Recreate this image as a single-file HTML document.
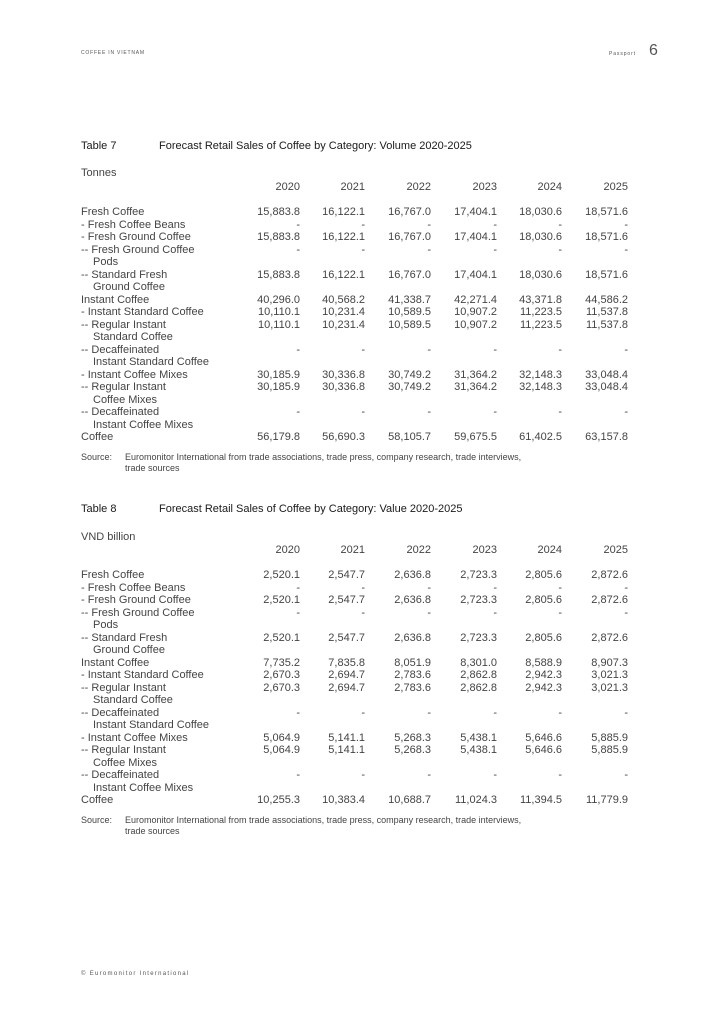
<!DOCTYPE html>
<html><head><meta charset="utf-8">
<style>
html,body{margin:0;padding:0;background:#fff;}
body{width:724px;height:1024px;position:relative;overflow:hidden;font-family:"Liberation Sans",Arial,sans-serif;color:#444;}
.r{position:absolute;left:0;width:724px;height:13px;font-size:11px;line-height:13px;white-space:nowrap;margin-top:0.5px;}
.r span{position:absolute;top:0;}
.l{left:81px;}
.k{left:93px;}
.c1{right:424px;}.c2{right:359px;}.c3{right:293px;}.c4{right:227px;}.c5{right:162px;}.c6{right:96px;}
.t{color:#1a1a1a;}
.src{position:absolute;font-size:9px;line-height:11px;color:#444;white-space:nowrap;}
.hdr{position:absolute;font-size:5px;line-height:6px;letter-spacing:0.8px;color:#555;white-space:nowrap;}
</style></head><body>
<div class="hdr" style="left:81px;top:50px;">COFFEE IN VIETNAM</div>
<div class="hdr" style="left:609px;top:51px;letter-spacing:0.9px;">Passport</div>
<div style="position:absolute;left:649px;top:42px;font-size:16px;line-height:18px;color:#555;">6</div>

<div class="r t" style="top:139.5px"><span class="l">Table 7</span><span style="left:159px">Forecast Retail Sales of Coffee by Category: Volume 2020-2025</span></div>
<div class="r" style="top:166.5px"><span class="l">Tonnes</span></div>
<div class="r" style="top:180.5px"><span class="c1">2020</span><span class="c2">2021</span><span class="c3">2022</span><span class="c4">2023</span><span class="c5">2024</span><span class="c6">2025</span></div>

<div class="r" style="top:205.5px"><span class="l">Fresh Coffee</span><span class="c1">15,883.8</span><span class="c2">16,122.1</span><span class="c3">16,767.0</span><span class="c4">17,404.1</span><span class="c5">18,030.6</span><span class="c6">18,571.6</span></div>
<div class="r" style="top:218px"><span class="l">- Fresh Coffee Beans</span><span class="c1">-</span><span class="c2">-</span><span class="c3">-</span><span class="c4">-</span><span class="c5">-</span><span class="c6">-</span></div>
<div class="r" style="top:230.5px"><span class="l">- Fresh Ground Coffee</span><span class="c1">15,883.8</span><span class="c2">16,122.1</span><span class="c3">16,767.0</span><span class="c4">17,404.1</span><span class="c5">18,030.6</span><span class="c6">18,571.6</span></div>
<div class="r" style="top:243px"><span class="l">-- Fresh Ground Coffee</span><span class="c1">-</span><span class="c2">-</span><span class="c3">-</span><span class="c4">-</span><span class="c5">-</span><span class="c6">-</span></div>
<div class="r" style="top:255.5px"><span class="k">Pods</span></div>
<div class="r" style="top:268px"><span class="l">-- Standard Fresh</span><span class="c1">15,883.8</span><span class="c2">16,122.1</span><span class="c3">16,767.0</span><span class="c4">17,404.1</span><span class="c5">18,030.6</span><span class="c6">18,571.6</span></div>
<div class="r" style="top:280.5px"><span class="k">Ground Coffee</span></div>
<div class="r" style="top:293px"><span class="l">Instant Coffee</span><span class="c1">40,296.0</span><span class="c2">40,568.2</span><span class="c3">41,338.7</span><span class="c4">42,271.4</span><span class="c5">43,371.8</span><span class="c6">44,586.2</span></div>
<div class="r" style="top:305.5px"><span class="l">- Instant Standard Coffee</span><span class="c1">10,110.1</span><span class="c2">10,231.4</span><span class="c3">10,589.5</span><span class="c4">10,907.2</span><span class="c5">11,223.5</span><span class="c6">11,537.8</span></div>
<div class="r" style="top:318px"><span class="l">-- Regular Instant</span><span class="c1">10,110.1</span><span class="c2">10,231.4</span><span class="c3">10,589.5</span><span class="c4">10,907.2</span><span class="c5">11,223.5</span><span class="c6">11,537.8</span></div>
<div class="r" style="top:330.5px"><span class="k">Standard Coffee</span></div>
<div class="r" style="top:343px"><span class="l">-- Decaffeinated</span><span class="c1">-</span><span class="c2">-</span><span class="c3">-</span><span class="c4">-</span><span class="c5">-</span><span class="c6">-</span></div>
<div class="r" style="top:355.5px"><span class="k">Instant Standard Coffee</span></div>
<div class="r" style="top:368px"><span class="l">- Instant Coffee Mixes</span><span class="c1">30,185.9</span><span class="c2">30,336.8</span><span class="c3">30,749.2</span><span class="c4">31,364.2</span><span class="c5">32,148.3</span><span class="c6">33,048.4</span></div>
<div class="r" style="top:380.5px"><span class="l">-- Regular Instant</span><span class="c1">30,185.9</span><span class="c2">30,336.8</span><span class="c3">30,749.2</span><span class="c4">31,364.2</span><span class="c5">32,148.3</span><span class="c6">33,048.4</span></div>
<div class="r" style="top:393px"><span class="k">Coffee Mixes</span></div>
<div class="r" style="top:405.5px"><span class="l">-- Decaffeinated</span><span class="c1">-</span><span class="c2">-</span><span class="c3">-</span><span class="c4">-</span><span class="c5">-</span><span class="c6">-</span></div>
<div class="r" style="top:418px"><span class="k">Instant Coffee Mixes</span></div>
<div class="r" style="top:430.5px"><span class="l">Coffee</span><span class="c1">56,179.8</span><span class="c2">56,690.3</span><span class="c3">58,105.7</span><span class="c4">59,675.5</span><span class="c5">61,402.5</span><span class="c6">63,157.8</span></div>

<div class="src" style="left:81px;top:452px;">Source:</div>
<div class="src" style="left:125px;top:452px;">Euromonitor International from trade associations, trade press, company research, trade interviews,</div>
<div class="src" style="left:125px;top:463px;">trade sources</div>

<div class="r t" style="top:502.5px"><span class="l">Table 8</span><span style="left:159px">Forecast Retail Sales of Coffee by Category: Value 2020-2025</span></div>
<div class="r" style="top:530.5px"><span class="l">VND billion</span></div>
<div class="r" style="top:543.5px"><span class="c1">2020</span><span class="c2">2021</span><span class="c3">2022</span><span class="c4">2023</span><span class="c5">2024</span><span class="c6">2025</span></div>

<div class="r" style="top:568.5px"><span class="l">Fresh Coffee</span><span class="c1">2,520.1</span><span class="c2">2,547.7</span><span class="c3">2,636.8</span><span class="c4">2,723.3</span><span class="c5">2,805.6</span><span class="c6">2,872.6</span></div>
<div class="r" style="top:581px"><span class="l">- Fresh Coffee Beans</span><span class="c1">-</span><span class="c2">-</span><span class="c3">-</span><span class="c4">-</span><span class="c5">-</span><span class="c6">-</span></div>
<div class="r" style="top:593.5px"><span class="l">- Fresh Ground Coffee</span><span class="c1">2,520.1</span><span class="c2">2,547.7</span><span class="c3">2,636.8</span><span class="c4">2,723.3</span><span class="c5">2,805.6</span><span class="c6">2,872.6</span></div>
<div class="r" style="top:606px"><span class="l">-- Fresh Ground Coffee</span><span class="c1">-</span><span class="c2">-</span><span class="c3">-</span><span class="c4">-</span><span class="c5">-</span><span class="c6">-</span></div>
<div class="r" style="top:618.5px"><span class="k">Pods</span></div>
<div class="r" style="top:631px"><span class="l">-- Standard Fresh</span><span class="c1">2,520.1</span><span class="c2">2,547.7</span><span class="c3">2,636.8</span><span class="c4">2,723.3</span><span class="c5">2,805.6</span><span class="c6">2,872.6</span></div>
<div class="r" style="top:643.5px"><span class="k">Ground Coffee</span></div>
<div class="r" style="top:656px"><span class="l">Instant Coffee</span><span class="c1">7,735.2</span><span class="c2">7,835.8</span><span class="c3">8,051.9</span><span class="c4">8,301.0</span><span class="c5">8,588.9</span><span class="c6">8,907.3</span></div>
<div class="r" style="top:668.5px"><span class="l">- Instant Standard Coffee</span><span class="c1">2,670.3</span><span class="c2">2,694.7</span><span class="c3">2,783.6</span><span class="c4">2,862.8</span><span class="c5">2,942.3</span><span class="c6">3,021.3</span></div>
<div class="r" style="top:681px"><span class="l">-- Regular Instant</span><span class="c1">2,670.3</span><span class="c2">2,694.7</span><span class="c3">2,783.6</span><span class="c4">2,862.8</span><span class="c5">2,942.3</span><span class="c6">3,021.3</span></div>
<div class="r" style="top:693.5px"><span class="k">Standard Coffee</span></div>
<div class="r" style="top:706px"><span class="l">-- Decaffeinated</span><span class="c1">-</span><span class="c2">-</span><span class="c3">-</span><span class="c4">-</span><span class="c5">-</span><span class="c6">-</span></div>
<div class="r" style="top:718.5px"><span class="k">Instant Standard Coffee</span></div>
<div class="r" style="top:731px"><span class="l">- Instant Coffee Mixes</span><span class="c1">5,064.9</span><span class="c2">5,141.1</span><span class="c3">5,268.3</span><span class="c4">5,438.1</span><span class="c5">5,646.6</span><span class="c6">5,885.9</span></div>
<div class="r" style="top:743.5px"><span class="l">-- Regular Instant</span><span class="c1">5,064.9</span><span class="c2">5,141.1</span><span class="c3">5,268.3</span><span class="c4">5,438.1</span><span class="c5">5,646.6</span><span class="c6">5,885.9</span></div>
<div class="r" style="top:756px"><span class="k">Coffee Mixes</span></div>
<div class="r" style="top:768.5px"><span class="l">-- Decaffeinated</span><span class="c1">-</span><span class="c2">-</span><span class="c3">-</span><span class="c4">-</span><span class="c5">-</span><span class="c6">-</span></div>
<div class="r" style="top:781px"><span class="k">Instant Coffee Mixes</span></div>
<div class="r" style="top:793.5px"><span class="l">Coffee</span><span class="c1">10,255.3</span><span class="c2">10,383.4</span><span class="c3">10,688.7</span><span class="c4">11,024.3</span><span class="c5">11,394.5</span><span class="c6">11,779.9</span></div>

<div class="src" style="left:81px;top:815px;">Source:</div>
<div class="src" style="left:125px;top:815px;">Euromonitor International from trade associations, trade press, company research, trade interviews,</div>
<div class="src" style="left:125px;top:826px;">trade sources</div>

<div class="hdr" style="left:81px;top:971px;font-size:6px;line-height:7px;letter-spacing:1.3px;">© Euromonitor International</div>
</body></html>
